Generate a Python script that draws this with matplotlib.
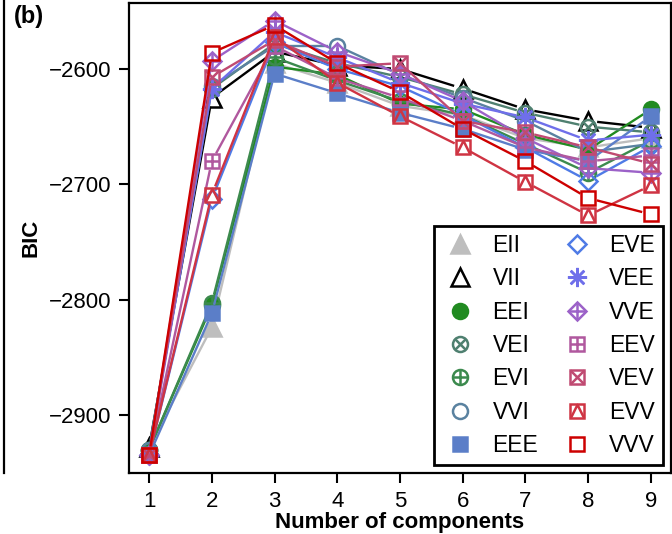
import numpy as np
import matplotlib.pyplot as plt
from matplotlib.path import Path
from matplotlib.lines import Line2D

plt.rcParams['font.family'] = ['Liberation Sans', 'DejaVu Sans']

components = [1, 2, 3, 4, 5, 6, 7, 8, 9]

bic_EII = [-2928, -2824, -2595, -2612, -2632, -2640, -2660, -2668, -2660]
bic_VII = [-2928, -2625, -2585, -2597, -2600, -2617, -2635, -2645, -2651]
bic_EEI = [-2930, -2805, -2598, -2605, -2630, -2635, -2657, -2670, -2635]
bic_VEI = [-2930, -2617, -2578, -2595, -2607, -2622, -2638, -2650, -2655]
bic_EVI = [-2930, -2803, -2590, -2610, -2628, -2640, -2665, -2690, -2662]
bic_VVI = [-2930, -2615, -2580, -2580, -2605, -2625, -2645, -2672, -2665]
bic_EEE = [-2935, -2812, -2604, -2621, -2638, -2652, -2670, -2680, -2641]
bic_EVE = [-2935, -2713, -2577, -2600, -2615, -2640, -2668, -2697, -2667]
bic_VEE = [-2935, -2617, -2568, -2590, -2612, -2630, -2642, -2662, -2657]
bic_VVE = [-2935, -2593, -2558, -2585, -2604, -2628, -2660, -2686, -2690]
bic_EEV = [-2935, -2680, -2580, -2608, -2625, -2645, -2668, -2680, -2675]
bic_VEV = [-2935, -2607, -2575, -2598, -2595, -2645, -2655, -2668, -2682]
bic_EVV = [-2935, -2709, -2572, -2612, -2641, -2668, -2698, -2727, -2701]
bic_VVV = [-2935, -2586, -2562, -2595, -2620, -2652, -2680, -2712, -2726]

models = ["EII", "VII", "EEI", "VEI", "EVI", "VVI", "EEE",
          "EVE", "VEE", "VVE", "EEV", "VEV", "EVV", "VVV"]
values = [bic_EII, bic_VII, bic_EEI, bic_VEI, bic_EVI, bic_VVI, bic_EEE,
          bic_EVE, bic_VEE, bic_VVE, bic_EEV, bic_VEV, bic_EVV, bic_VVV]

colors = ["#BEBEBE", "black", "#218B21", "#4F8070", "#3C8A4E", "#5A82A0", "#5B7EC8",
          "#4F7BE6", "#6F6FEA", "#9C62C8", "#B0589E", "#C04A72", "#CF3443", "#CD0000"]

tri_in_sq = Path([(-1, -1), (0, 1), (1, -1)], [Path.MOVETO, Path.LINETO, Path.LINETO])
asterisk = (8, 2, 0)

# (marker, size factor, filled) layers, like R's pch symbols
symbols = [
    [("^", 1.05, True)],
    [("^", 1.05, False)],
    [("o", 0.9, True)],
    [("o", 0.9, False), ("x", 0.6, False)],
    [("o", 0.9, False), ("+", 0.9, False)],
    [("o", 0.9, False)],
    [("s", 0.85, True)],
    [("D", 0.8, False)],
    [(asterisk, 1.15, False)],
    [("D", 0.8, False), ("+", 1.1, False)],
    [("s", 0.85, False), ("+", 0.85, False)],
    [("s", 0.85, False), ("x", 0.85, False)],
    [("s", 0.85, False), (tri_in_sq, 0.8, False)],
    [("s", 0.85, False)],
]

ms = 12
gap = 9  # px gap between line ends and points (R type="b")

fig = plt.figure(figsize=(6.72, 5.34), dpi=100)
ax = fig.add_axes([129 / 672, 1 - 473 / 534, (671 - 129) / 672, (473 - 3) / 534])
ax.set_xlim(0.68, 9.32)
ax.set_ylim(-2950.3, -2542.8)


def draw_markers(x, y, layers, col, z):
    handles = []
    for mk, f, filled in layers:
        h, = ax.plot(x, y, linestyle="none", marker=mk, markersize=ms * f,
                     markeredgecolor=col, markerfacecolor=col if filled else "none",
                     markeredgewidth=1.8, zorder=z)
        handles.append(h)
    return handles


legend_handles = []
for i, (name, vals) in enumerate(zip(models, values)):
    col = colors[i]
    pts = ax.transData.transform(np.column_stack([components, vals]))
    for a, b in zip(pts[:-1], pts[1:]):
        d = b - a
        L = np.hypot(*d)
        if L <= 2 * gap:
            continue
        u = d / L
        seg = ax.transData.inverted().transform(np.array([a + u * gap, b - u * gap]))
        ax.plot(seg[:, 0], seg[:, 1], color=col, lw=1.7, solid_capstyle="butt", zorder=2 + i)
    draw_markers(components, vals, symbols[i], col, 2.5 + i)
    hs = []
    for mk, f, filled in symbols[i]:
        hs.append(Line2D([], [], linestyle="none", marker=mk, markersize=ms * f,
                         markeredgecolor=col, markerfacecolor=col if filled else "none",
                         markeredgewidth=1.8))
    legend_handles.append(tuple(hs))

for s in ax.spines.values():
    s.set_linewidth(1.6)
ax.set_xticks(components)
ax.set_yticks([-2900, -2800, -2700, -2600])
ax.tick_params(direction="out", length=7, width=1.5, labelsize=16, pad=6)
ax.set_xlabel("Number of components", fontsize=16, fontweight="bold", labelpad=0)
ax.set_ylabel("BIC", fontsize=16, fontweight="bold", labelpad=5)

leg = ax.legend(legend_handles, models, ncol=2, loc="lower right", bbox_to_anchor=(1, 0),
                borderaxespad=0.35, fontsize=16.5, frameon=True, fancybox=False,
                labelspacing=0.45, columnspacing=0.9, handletextpad=0.6, handlelength=1.6,
                borderpad=0.35, framealpha=1)
leg.get_frame().set_edgecolor("black")
leg.get_frame().set_linewidth(2.0)
leg.set_zorder(50)

# border of the neighbouring panel and panel letter
fig.add_artist(Line2D([4 / 672, 4 / 672], [1, 1 - 473 / 534], color="black", lw=1.6))
fig.text(14 / 672, 1 - 17 / 534, "(b)", fontsize=17, fontweight="bold", va="center")

fig.savefig("out.png", dpi=100)
